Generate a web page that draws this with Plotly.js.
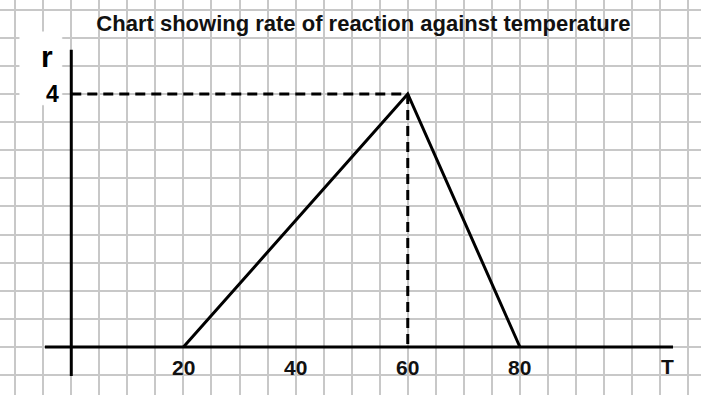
<!DOCTYPE html>
<html>
<head>
<meta charset="utf-8">
<script src="https://cdn.plot.ly/plotly-3.0.1.min.js"></script>
<style>html,body{margin:0;padding:0;background:#fff;}#chart{width:701px;height:395px;}</style>
</head>
<body>
<div id="chart"></div>
<script>
// Data
const temperature = [20, 60, 80];
const rate = [0, 4, 0];
const peakT = 60;
const peakR = 4;
const tickLabels = ['20', '40', '60', '80'];
const tickValues = [20, 40, 60, 80];
const xAxisSpan = [-4.7, 107.3];
const yAxisSpan = [-0.46, 4.7];
const titleText = 'Chart showing rate of reaction against temperature';

const FONT = 'Liberation Sans, Arial, sans-serif';

const traces = [
  { // x axis line
    x: xAxisSpan, y: [0, 0], mode: 'lines',
    line: {color: '#000', width: 3}, hoverinfo: 'skip', showlegend: false
  },
  { // y axis line
    x: [0, 0], y: yAxisSpan, mode: 'lines',
    line: {color: '#000', width: 3}, hoverinfo: 'skip', showlegend: false
  },
  { // dashed horizontal guide
    x: [0, peakT], y: [peakR, peakR], mode: 'lines',
    line: {color: '#000', width: 3, dash: '10px,6px'}, showlegend: false
  },
  { // dashed vertical guide
    x: [peakT, peakT], y: [peakR, 0], mode: 'lines',
    line: {color: '#000', width: 3, dash: '10px,6px'}, showlegend: false
  },
  { // rate curve
    x: temperature, y: rate, mode: 'lines',
    line: {color: '#000', width: 3}, showlegend: false
  }
];

const annotations = tickValues.map((v, i) => ({
  x: v, y: -0.32, xref: 'x', yref: 'y', text: tickLabels[i], showarrow: false,
  xanchor: 'center', yanchor: 'middle',
  font: {family: FONT, size: 21, color: '#111', weight: 'bold'}
}));
annotations.push({
  x: 106.4, y: -0.31, xref: 'x', yref: 'y', text: 'T', showarrow: false,
  xanchor: 'center', yanchor: 'middle',
  font: {family: FONT, size: 21, color: '#111', weight: 'bold'}
});
annotations.push({
  x: -4.3, y: 4.6, xref: 'x', yref: 'y', text: 'r', showarrow: false,
  xanchor: 'center', yanchor: 'middle',
  font: {family: FONT, size: 30, color: '#000', weight: 'bold'}
});
annotations.push({
  x: -1.9, y: peakR, xref: 'x', yref: 'y', text: String(peakR), showarrow: false,
  xanchor: 'right', yanchor: 'middle',
  font: {family: FONT, size: 23, color: '#000', weight: 'bold'}
});

const layout = {
  width: 701, height: 395,
  margin: {l: 0, r: 0, t: 0, b: 0, pad: 0},
  paper_bgcolor: '#fff', plot_bgcolor: '#fff',
  title: {
    text: titleText, x: 0.5185, xanchor: 'center', y: 0.94, yanchor: 'middle',
    yref: 'paper',
    font: {family: FONT, size: 22, color: '#111', weight: 'bold'}
  },
  xaxis: {
    range: [-12.71, 112.29], showgrid: true, gridcolor: '#c8c8c8', gridwidth: 2,
    tick0: 0, dtick: 5, zeroline: false, showticklabels: false, ticks: '',
    showline: false, fixedrange: true
  },
  yaxis: {
    range: [-0.759, 5.486], showgrid: true, gridcolor: '#c8c8c8', gridwidth: 2,
    tick0: 0, dtick: 4/9, zeroline: false, showticklabels: false, ticks: '',
    showline: false, fixedrange: true
  },
  shapes: [{
    type: 'rect', xref: 'x', yref: 'y',
    x0: -9.15, x1: -1.7, y0: 3.83, y1: 4.98,
    fillcolor: 'rgb(255,255,255)', opacity: 1, line: {color: 'rgb(255,255,255)', width: 1}, layer: 'above'
  }],
  annotations: annotations,
  showlegend: false
};

Plotly.newPlot('chart', traces, layout, {displayModeBar: false, staticPlot: true});
</script>
</body>
</html>
